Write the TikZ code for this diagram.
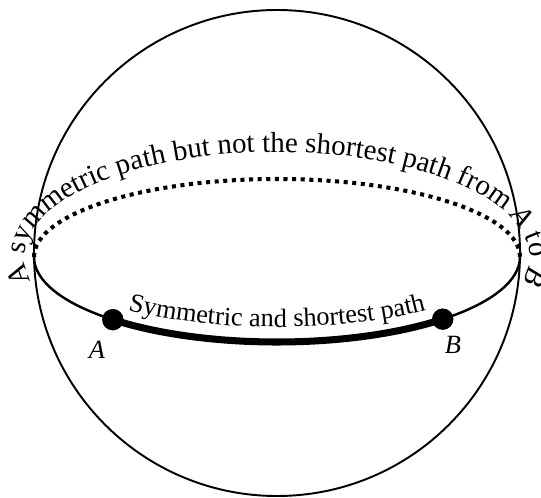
\documentclass[tikz,border=0pt]{standalone}
\usepackage{fontspec}
\setmainfont{Liberation Serif}
\usetikzlibrary{decorations.text}

\begin{document}
\fontsize{15pt}{18pt}\selectfont
\begin{tikzpicture}[thick,
    sphere/.style={line width=1.1pt},
    frontline/.style={line width=1.4pt},
    shortline/.style={line width=4pt},
    backline/.style={line width=2.3pt, dash pattern=on 2.3pt off 2.6pt},
    dot/.style={draw, circle, fill, inner sep=0pt, minimum size=0.4cm},
    ptname/.style={font=\itshape}]
    \useasboundingbox (-5.54,-4.9) rectangle (5.28,5.06);

    % Sphere and equator ends
    \draw[sphere] (0,0) circle (4.86);
    \coordinate (west) at (-4.86,-0.08);
    \coordinate (east) at (4.86,-0.08);

    % Nodes
    \node[dot] (A) at (-3.2834,-1.3334) {};
    \node[dot] (B) at (3.3145,-1.3233) {};
    \node[ptname] (Alabel) at (-3.6,-1.94) {A};
    \node[ptname] (Blabel) at (3.52,-1.84) {B};

    % Paths
    \draw[frontline] (west) arc[start angle=180, end angle=227.5, x radius=4.86, y radius=1.7];
    \draw[shortline] (A.center) arc[start angle=227.5, end angle=313, x radius=4.86, y radius=1.7];
    \draw[frontline] (B.center) arc[start angle=313, end angle=360, x radius=4.86, y radius=1.7];
    \draw[backline] (west) arc[start angle=180, end angle=0, x radius=4.86, y radius=1.56];

    % Texts along the paths
    \begin{scope}
    \fontsize{16.5pt}{19pt}\selectfont
    \path[decorate, decoration={text along path, text align=center,
        text={A symmetric path but not the shortest path from |\itshape|A|| to |\itshape|B}}]
        (-4.936,-0.518) arc[start angle=192, end angle=-12, x radius=5.05, y radius=2.1];
    \end{scope}
    \path[decorate, decoration={text along path, text align=center,
        text={Symmetric and shortest path}}]
        (-3.2385,-1.07) arc[start angle=225, end angle=315, x radius=4.58, y radius=1.4];
\end{tikzpicture}
\end{document}
